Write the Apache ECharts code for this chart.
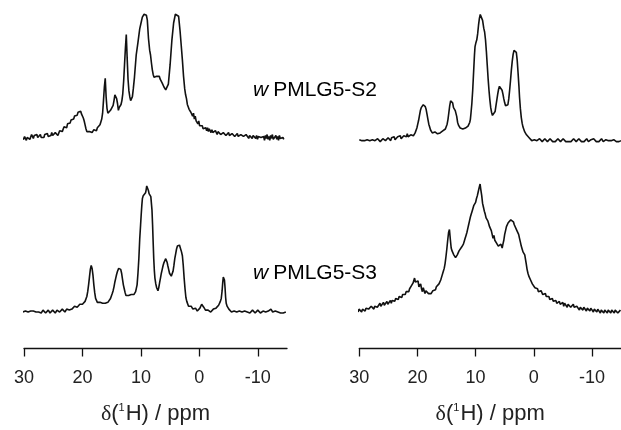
<!DOCTYPE html>
<html>
<head>
<meta charset="utf-8">
<script src="https://cdn.jsdelivr.net/npm/echarts@6/dist/echarts.min.js"></script>
<style>html,body{margin:0;padding:0;background:#fff}#c{width:621px;height:430px}</style>
</head>
<body>
<div id="c"></div>
<script>
// x tick labels (ppm)
const ppmTicks = [30, 20, 10, 0, -10];
const labelS2 = 'PMLG5-S2';
const labelS3 = 'PMLG5-S3';
const axisTitle = ['δ', '(', '1', 'H) / ppm'];

// Spectra: [chemical shift (ppm), intensity (a.u.)]
const leftS2 = [
[30.5,1],[30.35,-1],[30.2,0],[30.05,-2],[29.9,1],[29.75,-1],[29.6,-3],[29.45,0],[29.3,-1],[29.15,2],[29.0,-2],[28.85,0],[28.7,3],[28.55,1],[28.4,-1],[28.25,2],[28.1,0],[27.95,1],[27.8,3],[27.65,0],[27.5,2],[27.35,1],[27.2,3],[27.05,0],[26.9,1],[26.75,2],[26.6,0],[26.45,3],[26.3,1],[26.15,2],[26.0,4],[25.85,1],[25.7,3],[25.55,0],[25.4,2],[25.25,5],[25.1,2],[24.95,4],[24.8,1],[24.65,5],[24.5,3],[24.35,6],[24.2,2],[24.05,4],[23.9,7],[23.75,5],[23.6,9],[23.45,6],[23.3,8],[23.15,11],[23.0,9],[22.85,12],[22.7,10],[22.55,14],[22.4,12],[22.25,16],[22.1,15],[21.95,18],[21.8,17],[21.65,20],[21.5,19],[21.35,22],[21.2,21],[21.05,24],[20.9,23],[20.75,26],[20.6,27],[20.45,25],[20.3,27],[20.15,24],[20.0,22],[19.85,20],[19.7,17],[19.55,13],[19.4,9],[19.25,6],[19.1,5],[18.95,4],[18.8,6],[18.65,5],[18.5,7],[18.35,5],[18.2,6],[18.05,8],[17.9,6],[17.75,8],[17.6,7],[17.45,10],[17.3,9],[17.15,12],[17.0,13],[16.85,16],[16.7,19],[16.55,25],[16.4,38],[16.25,52],[16.1,61],[15.95,42],[15.8,30],[15.65,25],[15.5,24],[15.35,27],[15.2,28],[15.05,26],[14.9,30],[14.75,33],[14.6,38],[14.45,44],[14.3,46],[14.15,40],[14.0,35],[13.85,28],[13.7,31],[13.55,33],[13.4,34],[13.25,38],[13.1,45],[12.95,58],[12.8,75],[12.65,92],[12.5,106],[12.35,82],[12.2,60],[12.05,48],[11.9,42],[11.75,38],[11.6,37],[11.45,42],[11.3,50],[11.1,62],[10.8,85],[10.5,98],[10.2,112],[9.9,120],[9.75,124],[9.6,126],[9.45,127],[9.3,126],[9.15,127],[9.06,126],[8.9,121],[8.7,102],[8.5,90],[8.35,85],[8.2,77],[8.05,70],[7.9,65],[7.75,62],[7.6,62],[7.45,64],[7.3,63],[7.15,64],[7.0,62],[6.85,63],[6.7,60],[6.5,58],[6.35,56],[6.2,54],[6.05,52],[5.9,50],[5.75,49],[5.65,48],[5.5,50],[5.3,55],[5.0,75],[4.7,100],[4.4,118],[4.1,127],[3.9,129],[3.77,129],[3.55,125],[3.3,110],[3.1,95],[2.9,80],[2.7,63],[2.5,50],[2.35,44],[2.2,40],[2.05,34],[1.9,33],[1.75,29],[1.6,31],[1.45,26],[1.3,28],[1.15,22],[1.0,25],[0.85,19],[0.7,22],[0.55,17],[0.4,19],[0.25,14],[0.1,17],[-0.05,12],[-0.2,14],[-0.35,10],[-0.5,12],[-0.65,9],[-0.8,11],[-0.95,8],[-1.1,10],[-1.25,7],[-1.4,10],[-1.55,6],[-1.7,9],[-1.85,7],[-2.0,5],[-2.15,8],[-2.3,5],[-2.45,7],[-2.6,4],[-2.75,7],[-2.9,5],[-3.05,3],[-3.2,6],[-3.35,4],[-3.5,6],[-3.65,3],[-3.8,5],[-3.95,2],[-4.1,5],[-4.25,3],[-4.4,6],[-4.55,2],[-4.7,4],[-4.85,3],[-5.0,5],[-5.15,2],[-5.3,4],[-5.45,1],[-5.6,4],[-5.75,2],[-5.9,4],[-6.05,1],[-6.2,3],[-6.35,2],[-6.5,4],[-6.65,1],[-6.8,3],[-6.95,0],[-7.1,3],[-7.25,1],[-7.4,4],[-7.55,1],[-7.7,2],[-7.85,0],[-8.0,3],[-8.15,1],[-8.3,3],[-8.45,-1],[-8.6,2],[-8.75,0],[-8.9,3],[-9.05,-1],[-9.2,2],[-9.35,0],[-9.5,3],[-9.65,-1],[-9.8,2],[-9.95,-2],[-10.1,1],[-10.25,-1],[-10.4,3],[-10.55,0],[-10.7,2],[-10.85,-2],[-11.0,1],[-11.15,-3],[-11.3,2],[-11.45,-1],[-11.6,3],[-11.75,-2],[-11.9,1],[-12.05,-3],[-12.2,2],[-12.35,-1],[-12.5,3],[-12.65,-2],[-12.8,0],[-12.95,-3],[-13.1,2],[-13.25,-2],[-13.4,1],[-13.55,-3],[-13.7,2],[-13.85,-1],[-14.0,1],[-14.15,-3],[-14.3,0],[-14.45,-2]
];
const leftS3 = [
[30.2,0],[30.05,1],[29.9,-1],[29.75,1],[29.6,0],[29.45,2],[29.3,0],[29.15,1],[29.0,-1],[28.85,1],[28.7,2],[28.55,0],[28.4,1],[28.25,-1],[28.1,1],[27.95,0],[27.8,2],[27.65,1],[27.5,0],[27.35,2],[27.2,1],[27.05,-1],[26.9,1],[26.75,2],[26.6,0],[26.45,1],[26.3,-1],[26.15,1],[26.0,0],[25.85,2],[25.7,1],[25.55,-1],[25.4,1],[25.25,0],[25.1,2],[24.95,0],[24.8,1],[24.65,-1],[24.5,1],[24.35,2],[24.2,0],[24.05,1],[23.9,0],[23.75,2],[23.6,1],[23.45,3],[23.3,1],[23.15,2],[23.0,0],[22.85,2],[22.7,3],[22.55,1],[22.4,3],[22.25,2],[22.1,4],[21.95,2],[21.8,3],[21.65,5],[21.5,4],[21.35,6],[21.2,4],[21.05,6],[20.9,5],[20.75,7],[20.6,6],[20.45,8],[20.3,7],[20.15,9],[20.0,8],[19.85,9],[19.7,10],[19.55,11],[19.4,13],[19.25,16],[19.1,21],[18.95,28],[18.8,36],[18.65,44],[18.5,48],[18.35,45],[18.2,38],[18.05,28],[17.9,20],[17.75,14],[17.6,12],[17.45,10],[17.3,11],[17.15,9],[17.0,10],[16.85,8],[16.7,10],[16.55,9],[16.4,8],[16.25,10],[16.1,9],[15.95,8],[15.8,9],[15.65,10],[15.5,11],[15.35,12],[15.2,14],[15.05,16],[14.9,19],[14.75,22],[14.6,26],[14.45,31],[14.3,35],[14.15,39],[14.0,42],[13.8,45],[13.6,47],[13.45,44],[13.3,40],[13.15,34],[13.0,28],[12.85,24],[12.7,20],[12.55,17],[12.4,16],[12.25,15],[12.1,17],[11.95,18],[11.8,17],[11.65,18],[11.5,17],[11.35,19],[11.2,18],[11.05,20],[10.9,21],[10.8,22],[10.65,28],[10.5,40],[10.35,55],[10.2,75],[10.05,90],[9.95,100],[9.84,110],[9.74,117],[9.6,120],[9.5,122],[9.4,121],[9.3,121],[9.2,123],[9.1,126],[9.0,130],[8.9,132],[8.8,129],[8.7,125],[8.6,122],[8.5,121],[8.4,120],[8.3,119],[8.2,118],[8.1,105],[8.0,90],[7.9,72],[7.8,55],[7.7,43],[7.6,35],[7.45,29],[7.3,25],[7.2,24],[7.08,22],[6.95,25],[6.8,30],[6.65,35],[6.5,40],[6.35,44],[6.2,48],[6.05,51],[5.9,53],[5.75,55],[5.65,54],[5.5,51],[5.4,48],[5.25,44],[5.1,40],[4.95,38],[4.8,37],[4.65,39],[4.5,42],[4.35,48],[4.2,55],[4.05,60],[3.9,65],[3.75,68],[3.6,69],[3.5,70],[3.4,69],[3.3,67],[3.2,65],[3.05,62],[2.9,58],[2.75,48],[2.6,35],[2.45,24],[2.3,15],[2.15,11],[2.0,9],[1.85,6],[1.7,7],[1.55,4],[1.4,6],[1.25,5],[1.1,3],[0.95,4],[0.8,2],[0.65,4],[0.5,3],[0.35,1],[0.2,3],[0.05,2],[-0.1,4],[-0.25,6],[-0.4,8],[-0.5,9],[-0.6,7],[-0.75,5],[-0.9,4],[-1.05,2],[-1.2,3],[-1.35,1],[-1.5,2],[-1.65,0],[-1.8,1],[-1.95,0],[-2.1,2],[-2.25,1],[-2.4,3],[-2.55,1],[-2.7,3],[-2.85,4],[-3.0,5],[-3.15,6],[-3.3,7],[-3.45,9],[-3.6,11],[-3.75,14],[-3.9,22],[-4.0,30],[-4.1,36],[-4.2,38],[-4.3,33],[-4.4,25],[-4.5,15],[-4.6,9],[-4.75,6],[-4.9,4],[-5.05,3],[-5.2,2],[-5.35,1],[-5.5,0],[-5.65,2],[-5.8,0],[-5.95,1],[-6.1,-1],[-6.25,1],[-6.4,0],[-6.55,2],[-6.7,0],[-6.85,1],[-7.0,-1],[-7.15,1],[-7.3,0],[-7.45,2],[-7.6,0],[-7.75,1],[-7.9,-1],[-8.05,1],[-8.2,0],[-8.35,2],[-8.5,1],[-8.65,-1],[-8.8,1],[-8.95,0],[-9.1,2],[-9.25,0],[-9.4,1],[-9.55,-1],[-9.7,1],[-9.85,0],[-10.0,2],[-10.15,0],[-10.3,1],[-10.45,-1],[-10.6,1],[-10.75,0],[-10.9,1],[-11.05,-1],[-11.2,1],[-11.35,0],[-11.5,2],[-11.65,0],[-11.8,1],[-11.95,-1],[-12.1,1],[-12.25,3],[-12.4,2],[-12.55,0],[-12.7,1],[-12.85,-1],[-13.0,1],[-13.15,0],[-13.3,2],[-13.45,0],[-13.6,-1],[-13.75,1],[-13.9,-1],[-14.05,0],[-14.2,1],[-14.35,-1],[-14.5,0],[-14.65,-1],[-14.8,0]
];
const rightS2 = [
[30.0,1],[29.85,-1],[29.7,1],[29.55,0],[29.4,2],[29.25,-1],[29.1,0],[28.95,1],[28.8,-1],[28.65,1],[28.5,0],[28.35,2],[28.2,0],[28.05,1],[27.9,-1],[27.75,1],[27.6,0],[27.45,2],[27.3,0],[27.15,1],[27.0,-1],[26.85,2],[26.7,0],[26.55,1],[26.4,-1],[26.25,1],[26.1,0],[25.95,2],[25.8,1],[25.65,3],[25.5,0],[25.35,2],[25.2,1],[25.05,3],[24.9,1],[24.75,2],[24.6,0],[24.45,3],[24.3,1],[24.15,2],[24.0,4],[23.85,1],[23.7,3],[23.55,2],[23.4,4],[23.25,2],[23.1,3],[22.95,5],[22.8,2],[22.65,4],[22.5,3],[22.35,5],[22.2,3],[22.05,6],[21.9,4],[21.75,7],[21.6,4],[21.45,5],[21.3,3],[21.15,6],[21.0,4],[20.85,6],[20.7,5],[20.55,7],[20.4,8],[20.25,10],[20.1,13],[19.95,17],[19.8,21],[19.65,26],[19.5,31],[19.35,34],[19.2,36],[19.0,37],[18.8,37],[18.65,35],[18.5,32],[18.35,27],[18.2,22],[18.05,17],[17.9,14],[17.75,11],[17.6,10],[17.45,8],[17.3,9],[17.15,8],[17.0,9],[16.85,7],[16.7,8],[16.55,7],[16.4,8],[16.25,7],[16.1,8],[15.95,9],[15.8,9],[15.65,10],[15.5,9],[15.35,11],[15.2,12],[15.05,14],[14.9,17],[14.75,22],[14.6,29],[14.45,36],[14.3,41],[14.15,43],[14.06,43],[13.95,39],[13.8,34],[13.65,32],[13.5,31],[13.4,30],[13.25,25],[13.1,19],[12.95,16],[12.8,14],[12.65,13],[12.5,12],[12.35,13],[12.2,12],[12.05,14],[11.9,12],[11.75,13],[11.6,14],[11.45,15],[11.3,15],[11.15,17],[11.0,19],[10.9,22],[10.8,28],[10.65,38],[10.5,52],[10.35,70],[10.2,88],[10.1,97],[9.95,101],[9.8,104],[9.65,110],[9.5,119],[9.35,126],[9.2,130],[9.06,132],[8.95,130],[8.8,124],[8.6,116],[8.45,112],[8.3,104],[8.15,92],[8.0,78],[7.85,64],[7.7,52],[7.55,42],[7.4,34],[7.25,29],[7.1,26],[6.96,25],[6.8,27],[6.65,30],[6.5,36],[6.35,42],[6.2,48],[6.05,53],[5.9,56],[5.75,57],[5.6,56],[5.45,52],[5.3,48],[5.15,43],[5.0,39],[4.85,36],[4.7,35],[4.57,34],[4.45,37],[4.3,43],[4.15,52],[4.0,62],[3.85,73],[3.7,82],[3.55,89],[3.4,93],[3.25,95],[3.14,95],[3.0,91],[2.85,83],[2.7,70],[2.55,56],[2.45,45],[2.3,33],[2.15,24],[2.0,18],[1.85,14],[1.7,12],[1.55,9],[1.4,8],[1.25,6],[1.1,6],[0.95,4],[0.8,3],[0.65,1],[0.5,2],[0.35,0],[0.2,2],[0.05,-1],[-0.1,1],[-0.25,0],[-0.4,2],[-0.55,0],[-0.7,1],[-0.85,-1],[-1.0,2],[-1.15,0],[-1.3,1],[-1.45,-1],[-1.6,1],[-1.75,0],[-1.9,2],[-2.05,0],[-2.2,1],[-2.35,-1],[-2.5,1],[-2.65,0],[-2.8,2],[-2.95,0],[-3.1,1],[-3.25,-1],[-3.4,1],[-3.55,0],[-3.7,-1],[-3.85,1],[-4.0,0],[-4.15,2],[-4.3,0],[-4.45,1],[-4.6,-1],[-4.75,1],[-4.9,0],[-5.05,2],[-5.2,0],[-5.35,1],[-5.5,-1],[-5.65,1],[-5.8,0],[-5.95,-1],[-6.1,1],[-6.25,0],[-6.4,-1],[-6.55,1],[-6.7,0],[-6.85,2],[-7.0,0],[-7.15,1],[-7.3,-1],[-7.45,1],[-7.6,0],[-7.75,2],[-7.9,0],[-8.05,1],[-8.2,-1],[-8.35,1],[-8.5,0],[-8.65,-1],[-8.8,1],[-8.95,0],[-9.1,2],[-9.25,0],[-9.4,-1],[-9.55,1],[-9.7,0],[-9.85,1],[-10.0,-1],[-10.15,1],[-10.3,2],[-10.45,0],[-10.6,1],[-10.75,-1],[-10.9,1],[-11.05,0],[-11.2,-1],[-11.35,1],[-11.5,0],[-11.65,2],[-11.8,0],[-11.95,-1],[-12.1,1],[-12.25,0],[-12.4,1],[-12.55,-1],[-12.7,1],[-12.85,0],[-13.0,1],[-13.15,-1],[-13.3,0],[-13.45,1],[-13.6,-1],[-13.75,1],[-13.9,0],[-14.05,1],[-14.2,-1],[-14.35,1],[-14.5,0],[-14.65,-1],[-14.8,1],[-15.0,0]
];
const rightS3 = [
[30.2,0],[30.05,3],[29.9,1],[29.75,4],[29.6,0],[29.45,3],[29.3,2],[29.15,5],[29.0,1],[28.85,4],[28.7,2],[28.55,6],[28.4,3],[28.25,5],[28.1,2],[27.95,6],[27.8,4],[27.65,7],[27.5,3],[27.35,6],[27.2,4],[27.05,8],[26.9,5],[26.75,7],[26.6,4],[26.45,9],[26.3,6],[26.15,8],[26.0,6],[25.85,10],[25.7,7],[25.55,9],[25.4,7],[25.25,11],[25.1,8],[24.95,10],[24.8,8],[24.65,12],[24.5,9],[24.35,12],[24.2,10],[24.05,13],[23.9,11],[23.75,14],[23.6,12],[23.45,15],[23.3,13],[23.15,16],[23.0,14],[22.85,17],[22.7,15],[22.55,18],[22.4,16],[22.25,19],[22.1,18],[21.95,21],[21.8,19],[21.65,22],[21.5,21],[21.35,24],[21.2,23],[21.05,27],[20.9,26],[20.75,30],[20.6,31],[20.5,35],[20.35,31],[20.2,33],[20.05,30],[19.9,32],[19.75,26],[19.6,25],[19.45,29],[19.3,24],[19.15,21],[19.0,25],[18.85,22],[18.7,19],[18.55,22],[18.4,20],[18.25,21],[18.1,19],[17.95,18],[17.8,17],[17.65,19],[17.5,20],[17.35,22],[17.2,21],[17.05,24],[16.9,23],[16.75,26],[16.6,25],[16.45,28],[16.3,29],[16.15,31],[16.0,33],[15.85,36],[15.7,38],[15.55,42],[15.4,45],[15.25,50],[15.1,57],[14.95,65],[14.8,74],[14.65,82],[14.5,85],[14.35,75],[14.2,66],[14.05,63],[13.9,62],[13.75,59],[13.6,60],[13.45,56],[13.3,57],[13.15,59],[13.0,61],[12.85,63],[12.7,65],[12.55,64],[12.4,67],[12.25,69],[12.1,70],[11.95,73],[11.8,76],[11.65,79],[11.5,82],[11.35,86],[11.2,90],[11.05,94],[10.9,98],[10.75,101],[10.6,104],[10.45,107],[10.3,110],[10.15,112],[10.0,113],[9.85,117],[9.7,120],[9.55,124],[9.4,128],[9.23,132],[9.1,126],[8.95,120],[8.8,112],[8.65,108],[8.5,104],[8.35,101],[8.2,97],[8.05,99],[7.9,94],[7.75,91],[7.6,88],[7.45,86],[7.3,84],[7.15,82],[7.0,76],[6.85,79],[6.7,74],[6.55,75],[6.4,71],[6.25,72],[6.1,68],[5.95,70],[5.8,66],[5.65,70],[5.5,68],[5.43,66],[5.3,70],[5.15,74],[5.0,80],[4.85,84],[4.7,88],[4.55,90],[4.4,92],[4.25,93],[4.1,94],[3.95,95],[3.8,96],[3.65,95],[3.5,93],[3.35,90],[3.2,89],[3.05,88],[2.9,84],[2.75,82],[2.6,80],[2.45,76],[2.3,72],[2.15,68],[2.0,65],[1.85,62],[1.7,60],[1.55,59],[1.43,58],[1.3,50],[1.15,44],[1.0,40],[0.85,37],[0.7,35],[0.55,33],[0.4,32],[0.25,29],[0.1,28],[-0.05,27],[-0.2,25],[-0.35,26],[-0.5,23],[-0.65,24],[-0.8,21],[-0.95,23],[-1.1,20],[-1.25,22],[-1.4,21],[-1.55,18],[-1.7,20],[-1.85,17],[-2.0,19],[-2.15,16],[-2.3,17],[-2.45,14],[-2.6,16],[-2.75,13],[-2.9,15],[-3.05,12],[-3.2,14],[-3.35,11],[-3.5,13],[-3.65,10],[-3.8,12],[-3.95,9],[-4.1,11],[-4.25,8],[-4.4,11],[-4.55,8],[-4.7,10],[-4.85,7],[-5.0,10],[-5.15,6],[-5.3,9],[-5.45,7],[-5.6,9],[-5.75,5],[-5.9,8],[-6.05,6],[-6.2,8],[-6.35,5],[-6.5,7],[-6.65,4],[-6.8,8],[-6.95,5],[-7.1,7],[-7.25,3],[-7.4,6],[-7.55,4],[-7.7,6],[-7.85,2],[-8.0,5],[-8.15,3],[-8.3,6],[-8.45,2],[-8.6,5],[-8.75,3],[-8.9,5],[-9.05,1],[-9.2,4],[-9.35,2],[-9.5,5],[-9.65,1],[-9.8,4],[-9.95,2],[-10.1,5],[-10.25,0],[-10.4,3],[-10.55,1],[-10.7,4],[-10.85,0],[-11.0,3],[-11.15,1],[-11.3,4],[-11.45,-1],[-11.6,2],[-11.75,0],[-11.9,3],[-12.05,-1],[-12.2,2],[-12.35,0],[-12.5,3],[-12.65,-1],[-12.8,2],[-12.95,0],[-13.1,3],[-13.25,-1],[-13.4,2],[-13.55,0],[-13.7,3],[-13.85,-1],[-14.0,2],[-14.15,0],[-14.3,3],[-14.45,-1],[-14.6,1],[-14.75,-1],[-14.9,2]
];

const chart = echarts.init(document.getElementById('c'), null, {renderer: 'canvas'});
const sans = 'Liberation Sans, Arial, sans-serif';
const GRID_H = 359.3, GRID_W = 263;

const richName = '{d|' + axisTitle[0] + '}{p|' + axisTitle[1] + '}{s|' + axisTitle[2] + '}{p|' + axisTitle[3] + '}';

function xAx(gi) {
  return {
    type: 'value', gridIndex: gi, min: -15, max: 30, inverse: true,
    axisLine: {show: true, onZero: false, lineStyle: {color: '#111', width: 1.3}},
    axisTick: {show: true, inside: false, length: 8, customValues: ppmTicks, lineStyle: {color: '#111', width: 1.3}},
    axisLabel: {show: true, customValues: ppmTicks, margin: 21, fontSize: 18, fontFamily: sans, color: '#222'},
    splitLine: {show: false},
    name: richName,
    nameLocation: 'middle', nameGap: 54,
    nameTextStyle: {
      fontSize: 22, fontFamily: sans, color: '#222',
      rich: {
        d: {fontSize: 22, fontFamily: 'Liberation Serif, serif', color: '#222'},
        p: {fontSize: 22, fontFamily: sans, color: '#222'},
        s: {fontSize: 11, fontFamily: sans, color: '#222', padding: [0, 1, 12, 0]}
      }
    }
  };
}
function yAx(gi, base) {
  return {type: 'value', gridIndex: gi, show: false, min: -(GRID_H - base), max: base, splitLine: {show: false}};
}
function ser(xi, yi, data) {
  return {type: 'line', xAxisIndex: xi, yAxisIndex: yi, data: data, showSymbol: false, symbol: 'none',
    clip: false, lineStyle: {color: '#111', width: 1.6}, animation: false, silent: true};
}

const labStyle = function(txt, y) {
  return {type: 'text', x: 253, y: y, silent: true,
    style: {text: '{i|w}{n|' + txt + '}', verticalAlign: 'middle',
      rich: {i: {fontSize: 21, fontStyle: 'italic', fontFamily: sans, color: '#222', padding: [0, 5, 0, 0]},
             n: {fontSize: 21, fontFamily: sans, color: '#222'}}}};
};

chart.setOption({
  animation: false,
  backgroundColor: '#fff',
  grid: [
    {left: 24, top: 0, width: GRID_W, height: GRID_H},
    {left: 359.3, top: 0, width: GRID_W, height: GRID_H}
  ],
  xAxis: [xAx(0), xAx(1)],
  yAxis: [yAx(0, 141.7), yAx(0, 321.7), yAx(1, 145), yAx(1, 321.7)],
  series: [ser(0, 0, leftS2), ser(0, 1, leftS3), ser(1, 2, rightS2), ser(1, 3, rightS3)],
  graphic: [labStyle(labelS2, 90), labStyle(labelS3, 273)]
});
</script>
</body>
</html>
